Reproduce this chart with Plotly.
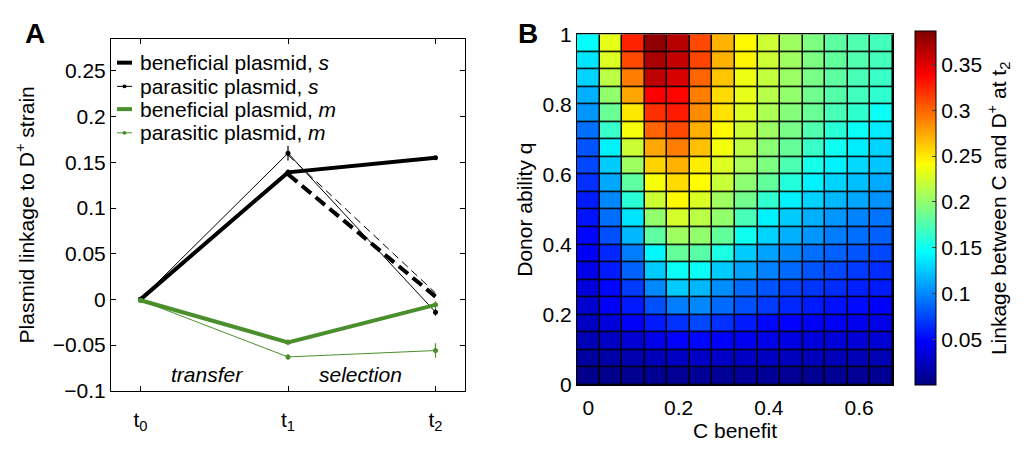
import plotly.graph_objects as go

# ---------------------------------------------------------------- panel A data
time_points = [0, 1, 2]
time_labels = ["t<sub>0</sub>", "t<sub>1</sub>", "t<sub>2</sub>"]

benef_s = [0.0, 0.139, 0.155]
benef_s_err = [0.002, 0.003, 0.002]
paras_s = [0.0, 0.160, -0.014]
paras_s_err = [0.002, 0.008, 0.004]
benef_m = [-0.001, -0.047, -0.006]
benef_m_err = [0.002, 0.003, 0.004]
paras_m = [-0.001, -0.063, -0.056]
paras_m_err = [0.002, 0.003, 0.008]

# counterfactual (dashed) segments t1 -> t2
dash_time = [1, 2]
benef_s_dash = [0.137, 0.003]
paras_s_dash = [0.158, 0.007]

legend_names = ["beneficial plasmid, <i>s</i>", "parasitic plasmid, <i>s</i>",
                "beneficial plasmid, <i>m</i>", "parasitic plasmid, <i>m</i>"]

# ---------------------------------------------------------------- panel B data
c_benefit = [0.0, 0.05, 0.1, 0.15, 0.2, 0.25, 0.3, 0.35, 0.4, 0.45, 0.5, 0.55, 0.6, 0.65]
donor_q = [0.975, 0.925, 0.875, 0.825, 0.775, 0.725, 0.675, 0.625, 0.575, 0.525,
           0.475, 0.425, 0.375, 0.325, 0.275, 0.225, 0.175, 0.125, 0.075, 0.025]
linkage = [
    [0.145, 0.232, 0.325, 0.380, 0.365, 0.310, 0.270, 0.243, 0.222, 0.205, 0.192, 0.180, 0.175, 0.170],
    [0.135, 0.228, 0.310, 0.370, 0.360, 0.312, 0.270, 0.245, 0.222, 0.205, 0.192, 0.182, 0.175, 0.170],
    [0.128, 0.215, 0.290, 0.362, 0.352, 0.300, 0.263, 0.235, 0.218, 0.203, 0.190, 0.180, 0.172, 0.166],
    [0.115, 0.200, 0.275, 0.338, 0.336, 0.290, 0.255, 0.232, 0.214, 0.200, 0.187, 0.177, 0.169, 0.162],
    [0.105, 0.185, 0.250, 0.320, 0.328, 0.285, 0.252, 0.228, 0.210, 0.195, 0.184, 0.172, 0.162, 0.148],
    [0.090, 0.165, 0.238, 0.300, 0.310, 0.272, 0.243, 0.222, 0.204, 0.190, 0.175, 0.160, 0.148, 0.138],
    [0.080, 0.140, 0.222, 0.275, 0.290, 0.265, 0.237, 0.216, 0.197, 0.183, 0.166, 0.150, 0.138, 0.128],
    [0.075, 0.125, 0.205, 0.258, 0.270, 0.248, 0.228, 0.208, 0.192, 0.174, 0.153, 0.140, 0.130, 0.123],
    [0.066, 0.112, 0.180, 0.238, 0.255, 0.242, 0.220, 0.198, 0.182, 0.158, 0.140, 0.128, 0.120, 0.113],
    [0.058, 0.100, 0.160, 0.222, 0.243, 0.228, 0.205, 0.188, 0.163, 0.140, 0.128, 0.118, 0.111, 0.104],
    [0.055, 0.090, 0.135, 0.200, 0.225, 0.215, 0.200, 0.172, 0.140, 0.125, 0.115, 0.105, 0.098, 0.092],
    [0.050, 0.078, 0.118, 0.180, 0.205, 0.200, 0.182, 0.150, 0.128, 0.115, 0.105, 0.095, 0.090, 0.085],
    [0.045, 0.063, 0.095, 0.142, 0.183, 0.178, 0.155, 0.125, 0.110, 0.100, 0.090, 0.085, 0.080, 0.075],
    [0.040, 0.058, 0.085, 0.125, 0.148, 0.148, 0.125, 0.110, 0.097, 0.088, 0.080, 0.075, 0.070, 0.065],
    [0.035, 0.050, 0.070, 0.100, 0.125, 0.118, 0.102, 0.088, 0.080, 0.073, 0.068, 0.065, 0.060, 0.058],
    [0.030, 0.045, 0.058, 0.078, 0.095, 0.100, 0.088, 0.078, 0.070, 0.063, 0.058, 0.054, 0.052, 0.048],
    [0.025, 0.035, 0.046, 0.058, 0.066, 0.075, 0.066, 0.058, 0.050, 0.047, 0.046, 0.044, 0.042, 0.040],
    [0.020, 0.026, 0.032, 0.040, 0.047, 0.050, 0.048, 0.043, 0.040, 0.038, 0.036, 0.034, 0.033, 0.032],
    [0.012, 0.015, 0.018, 0.022, 0.025, 0.027, 0.027, 0.026, 0.025, 0.024, 0.023, 0.022, 0.021, 0.020],
    [0.004, 0.005, 0.006, 0.007, 0.008, 0.009, 0.009, 0.009, 0.009, 0.008, 0.008, 0.008, 0.008, 0.008],
]
cbar_ticks = [0.05, 0.1, 0.15, 0.2, 0.25, 0.3, 0.35]

# matlab style jet
jet = [[0.0, "rgb(0,0,128)"], [0.125, "rgb(0,0,255)"], [0.375, "rgb(0,255,255)"],
       [0.625, "rgb(255,255,0)"], [0.875, "rgb(255,0,0)"], [1.0, "rgb(128,0,0)"]]

GREEN = "#4a8f2c"
FONT = "Liberation Sans"
FS = 21
# page has an 8px body margin, so the figure is drawn 8px in from the window edge
OFF = 8
W, H = 1033 - OFF, 452 - OFF


def px_x(p):
    return (p - OFF) / W


def px_y(p):
    return 1 - (p - OFF) / H


fig = go.Figure()


def err(vals, col):
    return dict(type="data", array=vals, visible=True, thickness=1.2, width=0, color=col)


fig.add_trace(go.Scatter(x=dash_time, y=benef_s_dash, mode="lines",
                         line=dict(color="black", width=4, dash="12px,6px"), showlegend=False))
fig.add_trace(go.Scatter(x=dash_time, y=paras_s_dash, mode="lines",
                         line=dict(color="black", width=1, dash="8px,5px"), showlegend=False))
fig.add_trace(go.Scatter(x=time_points, y=benef_s, error_y=err(benef_s_err, "black"),
                         mode="lines+markers", line=dict(color="black", width=4),
                         marker=dict(size=5, color="black"), name=legend_names[0]))
fig.add_trace(go.Scatter(x=time_points, y=paras_s, error_y=err(paras_s_err, "black"),
                         mode="lines+markers", line=dict(color="black", width=1),
                         marker=dict(size=5, color="black"), name=legend_names[1]))
fig.add_trace(go.Scatter(x=time_points, y=benef_m, error_y=err(benef_m_err, GREEN),
                         mode="lines+markers", line=dict(color=GREEN, width=4),
                         marker=dict(size=5, color=GREEN), name=legend_names[2]))
fig.add_trace(go.Scatter(x=time_points, y=paras_m, error_y=err(paras_m_err, GREEN),
                         mode="lines+markers", line=dict(color=GREEN, width=1),
                         marker=dict(size=5, color=GREEN), name=legend_names[3]))

fig.add_trace(go.Heatmap(x=c_benefit, y=donor_q, z=linkage, xaxis="x2", yaxis="y2",
                         colorscale=jet, zmin=0, zmax=0.386, xgap=1.5, ygap=1.5,
                         colorbar=dict(x=px_x(915), xanchor="left", y=px_y(20), yanchor="top",
                                       len=373 / H, lenmode="fraction", thickness=21,
                                       xpad=0, ypad=0,
                                       outlinecolor="black", outlinewidth=1,
                                       tickvals=cbar_ticks, ticks="inside", ticklen=4,
                                       tickfont=dict(size=FS, color="black", family=FONT),
                                       title=dict(text="Linkage between C and D<sup>+</sup> at t<sub>2</sub>",
                                                  side="right",
                                                  font=dict(size=FS, color="black", family=FONT)))))

axis_common = dict(showline=True, linecolor="black", linewidth=1, mirror="ticks",
                   ticks="inside", ticklen=5, tickcolor="black", showgrid=False, zeroline=False,
                   tickfont=dict(size=FS, color="black", family=FONT))

# hand-made legend: short line samples like the original
legend_y = [53, 78, 102, 127]
legend_col = ["black", "black", GREEN, GREEN]
legend_w = [4, 1, 4, 1]
shapes = [dict(type="rect", xref="x2", yref="y2", x0=-0.025, x1=0.675, y0=0, y1=1,
               fillcolor="black", line=dict(width=0), layer="below")]
annotations = []
for i, name in enumerate(legend_names):
    shapes.append(dict(type="line", xref="paper", yref="paper",
                       x0=px_x(117), x1=px_x(132), y0=px_y(legend_y[i]), y1=px_y(legend_y[i]),
                       line=dict(color=legend_col[i], width=legend_w[i])))
    if legend_w[i] == 1:
        shapes.append(dict(type="circle", xref="paper", yref="paper",
                           x0=px_x(122.5), x1=px_x(126.5), y0=px_y(legend_y[i] + 2), y1=px_y(legend_y[i] - 2),
                           fillcolor=legend_col[i], line=dict(width=0)))
    annotations.append(dict(text=name, x=px_x(138), y=px_y(legend_y[i]), xref="paper", yref="paper",
                            xanchor="left", yanchor="middle", showarrow=False,
                            font=dict(size=FS, family=FONT, color="black")))

annotations += [
    dict(text="<i>transfer</i>", x=0.45, y=-0.082, xref="x", yref="y", showarrow=False,
         font=dict(size=FS, family=FONT, color="black")),
    dict(text="<i>selection</i>", x=1.49, y=-0.082, xref="x", yref="y", showarrow=False,
         font=dict(size=FS, family=FONT, color="black")),
    dict(text="<b>A</b>", x=px_x(35), y=px_y(22), xref="paper", yref="paper", showarrow=False,
         xanchor="center", yanchor="middle", font=dict(size=28, family=FONT, color="black")),
    dict(text="<b>B</b>", x=px_x(528), y=px_y(22), xref="paper", yref="paper", showarrow=False,
         xanchor="center", yanchor="middle", font=dict(size=28, family=FONT, color="black")),
]

fig.update_layout(
    width=W, height=H, margin=dict(l=0, r=0, t=0, b=0),
    paper_bgcolor="white", plot_bgcolor="white", showlegend=False,
    font=dict(family=FONT, size=FS, color="black"),
    xaxis=dict(axis_common, domain=[px_x(111), px_x(465)], range=[-0.2, 2.2],
               tickvals=time_points, ticktext=time_labels, ticklabelstandoff=10, anchor="y"),
    yaxis=dict(axis_common, domain=[px_y(399), px_y(28)], range=[-0.1, 0.285],
               tickvals=[-0.1, -0.05, 0, 0.05, 0.1, 0.15, 0.2, 0.25],
               ticktext=["\u22120.1", "\u22120.05", "0", "0.05", "0.1", "0.15", "0.2", "0.25"],
               title=dict(text="Plasmid linkage to D<sup>+</sup> strain",
                          font=dict(size=FS, family=FONT, color="black"), standoff=12),
               anchor="x"),
    xaxis2=dict(axis_common, ticks="", domain=[px_x(577), px_x(893)], range=[-0.025, 0.675],
                tickvals=[0, 0.2, 0.4, 0.6], ticktext=["0", "0.2", "0.4", "0.6"], ticklabelstandoff=4,
                title=dict(text="C benefit", font=dict(size=FS, family=FONT, color="black"), standoff=4),
                anchor="y2"),
    yaxis2=dict(axis_common, ticks="", domain=[px_y(393), px_y(23)], range=[0, 1],
                tickvals=[0, 0.2, 0.4, 0.6, 0.8, 1], ticktext=["0", "0.2", "0.4", "0.6", "0.8", "1"],
                title=dict(text="Donor ability q", font=dict(size=FS, family=FONT, color="black"), standoff=4),
                anchor="x2"),
    shapes=shapes,
    annotations=annotations,
)

fig.write_html("out.html")
